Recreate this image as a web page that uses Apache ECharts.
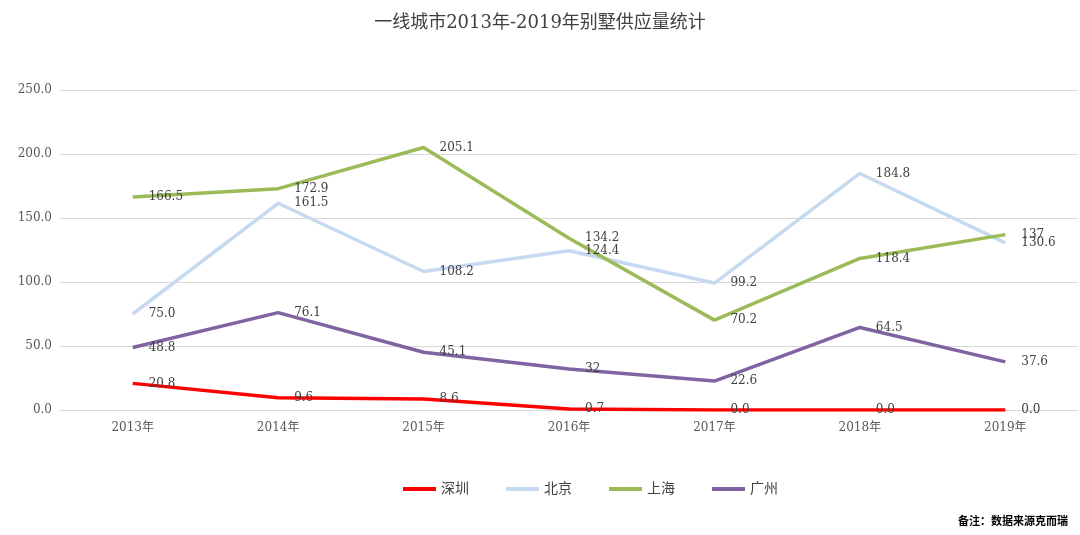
<!DOCTYPE html>
<html><head><meta charset="utf-8">
<script src="https://cdn.jsdelivr.net/npm/echarts@6/dist/echarts.min.js"></script>
<style>html,body{margin:0;padding:0;background:#fff}#c{width:1080px;height:535px}</style>
</head><body><div id="c"></div>
<script>
const categories = ['2013年','2014年','2015年','2016年','2017年','2018年','2019年'];
const shenzhen = ['20.8','9.6','8.6','0.7','0.0','0.0','0.0'];
const beijing = ['75.0','161.5','108.2','124.4','99.2','184.8','130.6'];
const shanghai = ['166.5','172.9','205.1','134.2','70.2','118.4','137'];
const guangzhou = ['48.8','76.1','45.1','32','22.6','64.5','37.6'];
const seriesNames = ['深圳','北京','上海','广州'];
const colors = ['#FF0000','#C6D9F0','#9BBB59','#8064A2'];

const FONT = '"DejaVu Serif","Liberation Serif","Noto Sans CJK SC",serif';
const chart = echarts.init(document.getElementById('c'));
const mk = (name, data, color) => ({
  name, type: 'line', data, symbol: 'circle', symbolSize: 0, showSymbol: true,
  lineStyle: {color, width: 3.5}, itemStyle: {color},
  label: {show: true, position: 'right', distance: 16, color: '#404040', fontSize: 12, fontFamily: FONT,
    formatter: p => p.data},
  labelLayout: {hideOverlap: false}
});
chart.setOption({
  animation: false,
  title: {text: '一线城市2013年-2019年别墅供应量统计', left: 'center', top: 9,
    textStyle: {fontSize: 18, fontWeight: 'normal', color: '#404040', fontFamily: FONT}},
  legend: {bottom: 34, left: 398, itemWidth: 33, itemHeight: 4, itemGap: 37,
    icon: 'rect', textStyle: {fontSize: 14, color: '#404040', fontFamily: FONT},
    data: seriesNames},
  grid: {left: 60, right: 2, top: 90, bottom: 125, containLabel: false},
  xAxis: {type: 'category', data: categories, boundaryGap: true,
    axisLine: {lineStyle: {color: '#d9d9d9'}}, axisTick: {show: false},
    axisLabel: {color: '#595959', fontSize: 12, fontFamily: FONT, margin: 12}},
  yAxis: {type: 'value', min: 0, max: 250, interval: 50,
    axisLine: {show: false}, axisTick: {show: false},
    splitLine: {lineStyle: {color: '#d9d9d9'}},
    axisLabel: {color: '#595959', fontSize: 12, fontFamily: FONT, margin: 8, formatter: v => v.toFixed(1)}},
  graphic: [{type: 'text', right: 12, top: 515,
    style: {text: '备注：数据来源克而瑞', fontSize: 11, fontWeight: 'bold', fill: '#000', fontFamily: '"Noto Sans CJK SC",serif'}}],
  series: [mk(seriesNames[0], shenzhen, colors[0]), mk(seriesNames[1], beijing, colors[1]),
           mk(seriesNames[2], shanghai, colors[2]), mk(seriesNames[3], guangzhou, colors[3])]
});
</script></body></html>
